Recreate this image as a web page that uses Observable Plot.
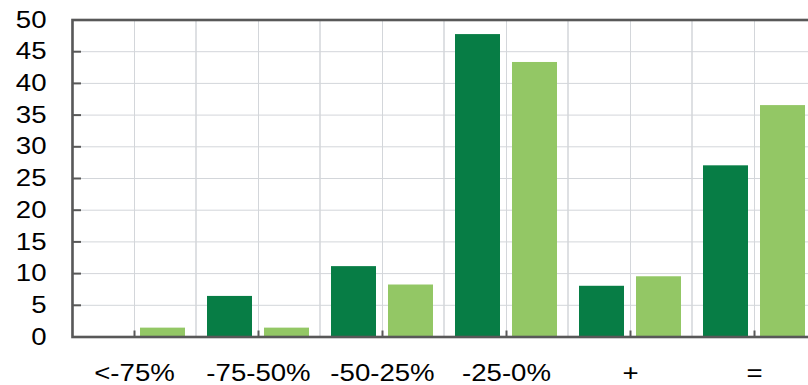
<!DOCTYPE html>
<html>
<head>
<meta charset="utf-8">
<script src="https://cdn.jsdelivr.net/npm/d3@7"></script>
<script src="https://cdn.jsdelivr.net/npm/@observablehq/plot@0.6"></script>
<style>
  html, body { margin: 0; padding: 0; background: #fff; overflow: hidden; }
</style>
</head>
<body>
<div id="chart"></div>
<script>
// Share of respondents (%) by change bracket, two series side by side
const categories = ["<-75%", "-75-50%", "-50-25%", "-25-0%", "+", "="];
const seriesA = [0, 6.4, 11.1, 47.7, 8.0, 27.0];   // dark green
const seriesB = [1.4, 1.4, 8.2, 43.3, 9.5, 36.5];  // light green
const yTicks = [0, 5, 10, 15, 20, 25, 30, 35, 40, 45, 50];

const colorA = "#077d45";
const colorB = "#93c765";
const gridColor = "#d3d6da";
const axisColor = "#585858";

const rowsA = categories.map((c, i) => ({category: c, value: seriesA[i]}));
const rowsB = categories.map((c, i) => ({category: c, value: seriesB[i]}));

const plot = Plot.plot({
  width: 820,
  height: 385,
  marginLeft: 72,
  marginRight: 4,
  marginTop: 19.5,
  marginBottom: 48.5,
  style: {
    fontFamily: "'Liberation Sans', Arial, sans-serif",
    fontSize: "24px",
    color: "#000",
    background: "#fff",
    maxWidth: "none"
  },
  x: {domain: categories, padding: 0, label: null},
  y: {domain: [0, 50], label: null},
  marks: [
    // horizontal grid
    Plot.gridY(yTicks, {stroke: gridColor, strokeOpacity: 1}),
    // vertical grid at the category boundaries
    Plot.barY(categories, {x: d => d, y1: 0, y2: 50, fill: "none", stroke: gridColor}),
    // vertical grid at the category centres
    Plot.gridX({stroke: gridColor, strokeOpacity: 1}),
    // bars
    Plot.barY(rowsA, {x: "category", y: "value", fill: colorA, insetLeft: 11, insetRight: 68}),
    Plot.barY(rowsB, {x: "category", y: "value", fill: colorB, insetLeft: 68, insetRight: 11}),
    // frame
    Plot.frame({stroke: axisColor, strokeWidth: 2.6}),
    // inward tick marks
    Plot.axisY(yTicks, {tickSize: -9, text: null, stroke: axisColor, strokeWidth: 2, label: null}),
    Plot.axisX({tickSize: -6, text: null, stroke: axisColor, strokeWidth: 2, label: null}),
    // tick labels
    Plot.axisY(yTicks, {tickSize: 0, tickPadding: 26, label: null, fill: "#000"}),
    Plot.axisX({tickSize: 0, tickPadding: 27, label: null, fill: "#000"})
  ]
});

// widen the tick label glyphs slightly around their anchor
d3.select(plot).selectAll('g[aria-label$="tick label"] text').each(function () {
  const t = this.getAttribute("transform");
  if (t) {
    this.setAttribute("transform", t + " scale(1.15,1)");
  } else {
    const x = +this.getAttribute("x") || 0, y = +this.getAttribute("y") || 0;
    this.removeAttribute("x");
    this.removeAttribute("y");
    this.setAttribute("transform", `translate(${x},${y}) scale(1.15,1)`);
  }
});

document.getElementById("chart").appendChild(plot);
</script>
</body>
</html>
